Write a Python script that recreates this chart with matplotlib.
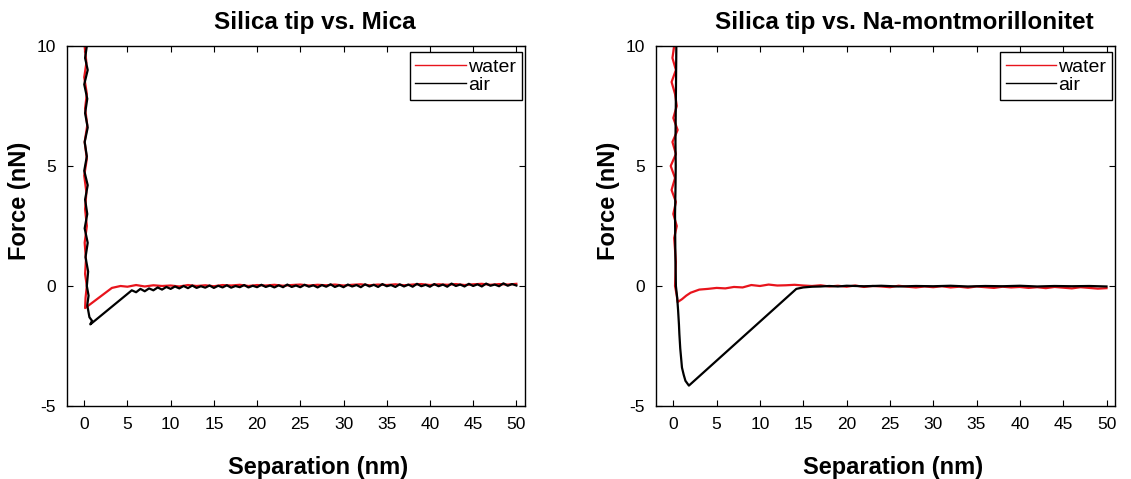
import matplotlib.pyplot as plt

plt.rcParams['font.family'] = ['Liberation Sans', 'DejaVu Sans']
plt.rcParams['axes.unicode_minus'] = False

# ---- Silica tip vs. Mica ----
mica_water_x = [0.05, 0.25, 0.0, 0.3, 0.1, 0.35, 0.05, 0.3, 0.0, 0.25, 0.1, 0.3,
                0.05, 0.2, 0.1, 0.3, 0.15, 0.1, 3.2, 4.2, 5.0, 6.0, 7.0, 8.0, 9.0,
                10, 11, 12, 13, 14, 15, 16, 17, 18, 19, 20, 21, 22, 23, 24, 25, 26,
                27, 28, 29, 30, 31, 32, 33, 34, 35, 36, 37, 38, 39, 40, 41, 42, 43,
                44, 45, 46, 47, 48, 49, 50]
mica_water_y = [10, 9.3, 8.7, 8.0, 7.4, 6.7, 6.0, 5.3, 4.6, 3.9, 3.2, 2.5,
                1.8, 1.1, 0.5, 0.0, -0.5, -0.92, -0.08, 0.0, -0.03, 0.04, -0.02,
                0.03, 0.0, 0.02, -0.02, 0.04, 0.0, 0.03, -0.01, 0.04, 0.02, 0.05,
                0.0, 0.04, 0.02, 0.05, 0.01, 0.04, 0.06, 0.02, 0.05, 0.03, 0.06,
                0.02, 0.05, 0.07, 0.03, 0.06, 0.04, 0.07, 0.03, 0.06, 0.08, 0.04,
                0.07, 0.05, 0.08, 0.04, 0.07, 0.09, 0.05, 0.08, 0.06, 0.09]

mica_air_x = [0.3, 0.1, 0.4, 0.0, 0.35, 0.1, 0.4, 0.05, 0.3, 0.0, 0.4, 0.1,
              0.35, 0.05, 0.4, 0.15, 0.45, 0.3, 0.5, 0.35, 0.6, 0.9, 0.7, 5.1,
              5.5, 6.0, 6.5, 7.0, 7.5, 8.0, 8.5, 9.0, 9.5, 10, 10.5, 11, 11.5,
              12, 12.5, 13, 13.5, 14, 14.5, 15, 15.5, 16, 16.5, 17, 17.5, 18,
              18.5, 19, 19.5, 20, 20.5, 21, 21.5, 22, 22.5, 23, 23.5, 24, 24.5,
              25, 25.5, 26, 26.5, 27, 27.5, 28, 28.5, 29, 29.5, 30, 30.5, 31,
              31.5, 32, 32.5, 33, 33.5, 34, 34.5, 35, 35.5, 36, 36.5, 37, 37.5,
              38, 38.5, 39, 39.5, 40, 40.5, 41, 41.5, 42, 42.5, 43, 43.5, 44,
              44.5, 45, 45.5, 46, 46.5, 47, 47.5, 48, 48.5, 49, 49.5, 50]
mica_air_y = [10, 9.5, 9.0, 8.4, 7.8, 7.2, 6.6, 6.0, 5.4, 4.8, 4.2, 3.6,
              3.0, 2.4, 1.8, 1.2, 0.6, 0.0, -0.4, -0.8, -1.3, -1.45, -1.6, -0.3,
              -0.18, -0.26, -0.12, -0.22, -0.1, -0.18, -0.06, -0.15, -0.04,
              -0.12, -0.02, -0.1, 0.0, -0.09, 0.02, -0.08, -0.01, -0.07, 0.02,
              -0.08, 0.01, -0.06, 0.03, -0.07, 0.0, -0.05, 0.04, -0.06, 0.01,
              -0.05, 0.05, -0.04, 0.02, -0.06, 0.03, -0.05, 0.06, -0.04, 0.02,
              -0.05, 0.05, -0.03, 0.03, -0.06, 0.04, -0.03, 0.07, -0.04, 0.03,
              -0.05, 0.06, -0.02, 0.04, -0.05, 0.07, -0.02, 0.05, -0.04, 0.08,
              -0.01, 0.04, -0.04, 0.07, -0.02, 0.06, -0.03, 0.09, -0.01, 0.05,
              -0.03, 0.08, -0.01, 0.06, -0.03, 0.1, 0.0, 0.06, -0.02, 0.09,
              0.0, 0.07, -0.02, 0.1, 0.01, 0.06, -0.01, 0.11, 0.01, 0.08, 0.02]

# ---- Silica tip vs. Na-montmorillonitet ----
namont_water_x = [0.1, -0.1, 0.3, -0.2, 0.2, 0.4, 0.0, 0.5, -0.1, 0.3, -0.3,
                  0.2, -0.2, 0.3, 0.0, 0.4, 0.1, 0.3, 0.2, 0.4, 0.5, 1.0, 1.5,
                  2.0, 3.0, 4.0, 5.0, 6.0, 7.0, 8.0, 9.0, 10, 11, 12, 13, 14, 15,
                  16, 17, 18, 19, 20, 21, 22, 23, 24, 25, 26, 27, 28, 29, 30, 31,
                  32, 33, 34, 35, 36, 37, 38, 39, 40, 41, 42, 43, 44, 45, 46, 47,
                  48, 49, 50]
namont_water_y = [10, 9.5, 9.0, 8.5, 8.0, 7.5, 7.0, 6.5, 6.0, 5.5, 5.0,
                  4.5, 4.0, 3.5, 3.0, 2.5, 2.0, 1.0, 0.0, -0.4, -0.67, -0.55,
                  -0.4, -0.28, -0.15, -0.12, -0.08, -0.1, -0.04, -0.06, 0.04,
                  0.0, 0.06, 0.02, 0.03, 0.05, 0.02, 0.0, 0.03, -0.02, 0.01,
                  -0.03, 0.02, -0.04, 0.0, -0.02, -0.05, 0.01, -0.03, -0.06,
                  -0.02, -0.05, -0.01, -0.06, -0.03, -0.07, -0.02, -0.05, -0.08,
                  -0.03, -0.06, -0.04, -0.08, -0.05, -0.09, -0.04, -0.07, -0.1,
                  -0.05, -0.08, -0.11, -0.09]

namont_air_x = [0.35, 0.3, 0.25, 0.28, 0.25, 0.2, 0.22, 0.25, 0.3, 0.45, 0.55,
                0.65, 0.7, 0.8, 0.9, 1.0, 1.2, 1.4, 1.8, 14.2, 15, 16, 17, 18,
                19, 20, 22, 24, 26, 28, 30, 32, 34, 36, 38, 40, 42, 44, 46, 48,
                50]
namont_air_y = [10, 8, 6, 5, 4, 3, 2, 1, 0, -0.5, -1.0, -1.6, -2.0, -2.6,
                -3.0, -3.4, -3.7, -3.95, -4.15, -0.12, -0.06, -0.03, -0.02,
                0.0, -0.02, 0.01, -0.01, 0.01, -0.02, 0.0, -0.01, 0.01, -0.02,
                0.0, -0.01, 0.01, -0.02, 0.0, -0.01, 0.0, -0.02]

panels = [
    ("Silica tip vs. Mica", mica_water_x, mica_water_y, mica_air_x, mica_air_y),
    ("Silica tip vs. Na-montmorillonitet", namont_water_x, namont_water_y,
     namont_air_x, namont_air_y),
]

fig = plt.figure(figsize=(11.31, 4.79), dpi=100)
positions = [[0.0592, 0.1524, 0.405, 0.7516], [0.58, 0.1524, 0.406, 0.7516]]
title_x = [0.541, 0.541]
xlabel_x = [0.548, 0.516]

for i, (pos, (title, wx, wy, airx, airy)) in enumerate(zip(positions, panels)):
    ax = fig.add_axes(pos)
    ax.plot(wx, wy, color='#e8141c', lw=1.6, label='water')
    ax.plot(airx, airy, color='black', lw=1.6, label='air')
    ax.set_xlim(-2, 51)
    ax.set_ylim(-5, 10)
    ax.set_xticks(range(0, 51, 5))
    ax.set_yticks([-5, 0, 5, 10])
    ax.tick_params(direction='in', top=True, right=True, length=4,
                   labelsize=12.5, pad=8)
    for s in ax.spines.values():
        s.set_linewidth(1.0)
    ax.set_title(title, fontsize=17.5, fontweight='bold', pad=12, x=title_x[i])
    ax.set_xlabel('Separation (nm)', fontsize=17, fontweight='bold', labelpad=17)
    ax.xaxis.label.set_x(xlabel_x[i])
    ax.set_ylabel('Force (nN)', fontsize=17, fontweight='bold', labelpad=4)
    ax.yaxis.label.set_y(0.57)
    leg = ax.legend(loc='upper right', bbox_to_anchor=(0.993, 0.983),
                    borderaxespad=0, fontsize=14, handlelength=2.6,
                    fancybox=False, framealpha=1, edgecolor='black',
                    handletextpad=0.1, labelspacing=0.05, borderpad=0.3)
    leg.get_frame().set_linewidth(1.0)
    for line in leg.get_lines():
        line.set_linewidth(1.0)

fig.savefig('out.png', dpi=100)
